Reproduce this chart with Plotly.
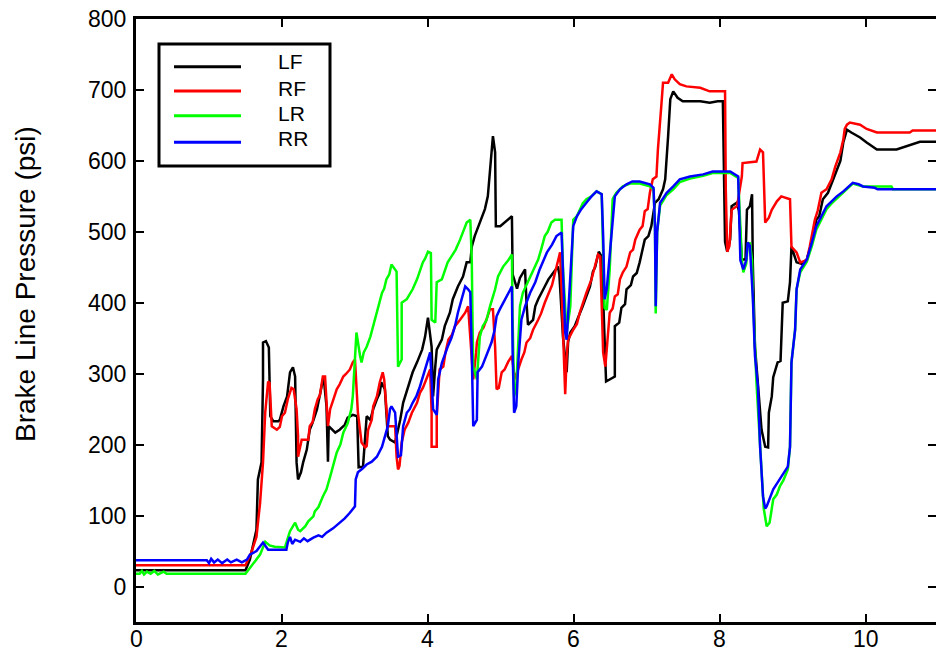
import plotly.graph_objects as go

# ---------------- data (time in s, pressure in psi) ----------------
series_names = ["LF", "RF", "LR", "RR"]
series_colors = ["#000000", "#ff0000", "#00ff00", "#0000ff"]

lf_x = [0, 1.5, 1.56, 1.65, 1.67, 1.72, 1.74, 1.74, 1.78, 1.82, 1.84, 1.88, 1.95, 1.97, 2.02, 2.07, 2.11, 2.15, 2.18, 2.20, 2.22, 2.26, 2.29, 2.34, 2.38, 2.42, 2.48, 2.53, 2.57, 2.61, 2.62, 2.63, 2.64, 2.73, 2.79, 2.86, 2.90, 2.97, 3.03, 3.05, 3.11, 3.14, 3.16, 3.21, 3.25, 3.30, 3.34, 3.36, 3.41, 3.45, 3.48, 3.55, 3.62, 3.66, 3.73, 3.79, 3.85, 3.92, 3.96, 4.0, 4.05, 4.07, 4.10, 4.12, 4.19, 4.23, 4.30, 4.34, 4.41, 4.48, 4.53, 4.58, 4.60, 4.64, 4.71, 4.78, 4.82, 4.85, 4.89, 4.92, 4.93, 4.99, 5.10, 5.15, 5.16, 5.22, 5.26, 5.33, 5.35, 5.37, 5.44, 5.47, 5.51, 5.55, 5.60, 5.65, 5.70, 5.78, 5.80, 5.85, 5.90, 5.92, 5.95, 6.01, 6.06, 6.12, 6.22, 6.26, 6.29, 6.34, 6.38, 6.44, 6.56, 6.56, 6.62, 6.65, 6.70, 6.72, 6.78, 6.81, 6.86, 6.90, 6.97, 7.02, 7.06, 7.11, 7.16, 7.22, 7.25, 7.27, 7.29, 7.32, 7.36, 7.42, 7.49, 7.73, 7.86, 7.97, 8.04, 8.07, 8.10, 8.14, 8.16, 8.23, 8.26, 8.30, 8.35, 8.37, 8.41, 8.44, 8.45, 8.48, 8.52, 8.57, 8.62, 8.66, 8.67, 8.71, 8.73, 8.79, 8.83, 8.86, 8.93, 8.96, 8.98, 9.05, 9.12, 9.19, 9.27, 9.32, 9.36, 9.41, 9.48, 9.53, 9.60, 9.65, 9.69, 9.74, 9.80, 9.92, 10.01, 10.15, 10.42, 10.56, 10.74, 10.96]
lf_y = [23, 23, 38, 80, 151, 175, 292, 344, 346, 337, 240, 233, 233, 235, 254, 268, 302, 309, 296, 175, 151, 161, 175, 193, 221, 231, 250, 273, 296, 254, 226, 176, 226, 217, 221, 228, 238, 242, 240, 168, 169, 207, 240, 235, 250, 264, 273, 288, 278, 212, 207, 203, 235, 259, 282, 302, 316, 334, 352, 379, 338, 268, 310, 334, 348, 367, 386, 405, 423, 437, 457, 457, 479, 494, 513, 532, 550, 588, 635, 612, 508, 508, 517, 522, 440, 420, 435, 447, 400, 369, 376, 395, 405, 414, 423, 433, 440, 451, 440, 352, 302, 345, 358, 367, 380, 395, 423, 444, 450, 472, 465, 289, 296, 367, 372, 393, 398, 419, 425, 437, 442, 457, 489, 494, 508, 541, 546, 560, 574, 602, 635, 687, 698, 689, 684, 684, 682, 684, 684, 486, 472, 489, 536, 541, 530, 461, 461, 531, 536, 553, 457, 338, 288, 221, 197, 196, 245, 268, 295, 316, 318, 400, 402, 429, 479, 457, 455, 461, 489, 517, 522, 546, 555, 569, 588, 600, 626, 644, 640, 633, 626, 616, 616, 621, 627, 627]

rf_x = [0, 1.5, 1.58, 1.65, 1.70, 1.74, 1.77, 1.81, 1.83, 1.86, 1.93, 1.97, 2.00, 2.04, 2.08, 2.13, 2.16, 2.20, 2.22, 2.22, 2.27, 2.36, 2.38, 2.42, 2.45, 2.49, 2.52, 2.56, 2.59, 2.61, 2.63, 2.66, 2.70, 2.75, 2.79, 2.84, 2.88, 2.93, 2.97, 3.0, 3.04, 3.09, 3.14, 3.16, 3.18, 3.23, 3.25, 3.30, 3.34, 3.38, 3.40, 3.43, 3.45, 3.55, 3.57, 3.59, 3.61, 3.64, 3.68, 3.73, 3.78, 3.85, 3.89, 3.93, 3.98, 4.03, 4.05, 4.05, 4.12, 4.12, 4.16, 4.21, 4.24, 4.28, 4.33, 4.37, 4.44, 4.51, 4.55, 4.59, 4.62, 4.66, 4.67, 4.71, 4.76, 4.80, 4.85, 4.89, 4.92, 4.94, 4.97, 5.01, 5.05, 5.10, 5.15, 5.19, 5.23, 5.28, 5.32, 5.35, 5.40, 5.44, 5.51, 5.55, 5.60, 5.65, 5.70, 5.74, 5.78, 5.81, 5.83, 5.85, 5.88, 5.90, 5.92, 5.99, 6.04, 6.08, 6.12, 6.17, 6.24, 6.28, 6.33, 6.36, 6.38, 6.40, 6.43, 6.47, 6.49, 6.53, 6.56, 6.60, 6.63, 6.67, 6.72, 6.77, 6.81, 6.84, 6.90, 6.94, 6.97, 7.01, 7.04, 7.08, 7.13, 7.15, 7.18, 7.20, 7.22, 7.29, 7.34, 7.38, 7.45, 7.54, 7.73, 7.86, 8.07, 8.08, 8.10, 8.13, 8.16, 8.23, 8.25, 8.30, 8.31, 8.50, 8.55, 8.59, 8.62, 8.67, 8.71, 8.78, 8.84, 8.96, 8.98, 9.05, 9.10, 9.19, 9.23, 9.30, 9.34, 9.39, 9.46, 9.53, 9.58, 9.65, 9.69, 9.71, 9.74, 9.78, 9.92, 10.01, 10.15, 10.60, 10.64, 10.96]
rf_y = [30, 30, 48, 70, 118, 175, 245, 289, 287, 226, 221, 225, 240, 245, 264, 280, 278, 250, 212, 183, 207, 207, 226, 232, 250, 264, 270, 296, 296, 268, 226, 250, 264, 278, 285, 296, 300, 306, 316, 320, 245, 203, 196, 198, 221, 235, 254, 268, 288, 302, 292, 250, 226, 226, 183, 165, 170, 203, 221, 231, 245, 259, 273, 280, 292, 306, 245, 197, 197, 240, 306, 310, 330, 348, 355, 367, 376, 386, 395, 330, 292, 330, 344, 358, 365, 376, 391, 391, 338, 278, 280, 302, 306, 317, 325, 292, 306, 320, 330, 344, 350, 362, 376, 385, 400, 414, 425, 442, 457, 471, 419, 348, 271, 325, 348, 362, 370, 386, 400, 414, 433, 450, 468, 465, 395, 330, 310, 367, 386, 392, 409, 412, 433, 443, 451, 471, 475, 489, 503, 508, 529, 532, 555, 574, 578, 616, 649, 682, 710, 710, 722, 715, 708, 705, 703, 698, 698, 560, 472, 480, 531, 536, 546, 578, 597, 599, 616, 612, 513, 520, 531, 543, 550, 546, 479, 471, 457, 460, 479, 517, 530, 555, 560, 574, 592, 612, 630, 645, 651, 654, 651, 645, 640, 640, 643, 643]

lr_x = [0, 0.05, 0.08, 0.11, 0.15, 0.2, 0.25, 0.3, 0.38, 0.42, 1.5, 1.6, 1.70, 1.77, 1.83, 1.90, 2.04, 2.07, 2.11, 2.18, 2.22, 2.25, 2.32, 2.36, 2.43, 2.45, 2.50, 2.56, 2.61, 2.66, 2.70, 2.75, 2.80, 2.84, 2.90, 2.95, 2.97, 3.0, 3.02, 3.07, 3.09, 3.12, 3.16, 3.21, 3.25, 3.28, 3.32, 3.37, 3.40, 3.43, 3.47, 3.50, 3.57, 3.59, 3.64, 3.64, 3.71, 3.75, 3.79, 3.85, 3.89, 3.93, 3.96, 4.0, 4.04, 4.05, 4.10, 4.12, 4.19, 4.23, 4.27, 4.32, 4.38, 4.44, 4.48, 4.53, 4.58, 4.60, 4.61, 4.62, 4.67, 4.71, 4.75, 4.80, 4.85, 4.92, 4.96, 5.03, 5.10, 5.15, 5.16, 5.18, 5.21, 5.23, 5.26, 5.30, 5.37, 5.44, 5.51, 5.55, 5.60, 5.64, 5.69, 5.74, 5.83, 5.85, 5.90, 5.95, 5.97, 5.99, 6.04, 6.08, 6.12, 6.17, 6.24, 6.31, 6.38, 6.40, 6.42, 6.45, 6.49, 6.53, 6.58, 6.67, 6.77, 6.90, 7.04, 7.09, 7.11, 7.12, 7.14, 7.18, 7.22, 7.27, 7.36, 7.45, 7.59, 7.77, 7.90, 8.14, 8.25, 8.30, 8.32, 8.36, 8.38, 8.41, 8.44, 8.45, 8.50, 8.55, 8.60, 8.64, 8.68, 8.73, 8.78, 8.82, 8.87, 8.93, 8.96, 8.98, 9.03, 9.05, 9.10, 9.19, 9.26, 9.32, 9.39, 9.46, 9.53, 9.60, 9.69, 9.74, 9.82, 9.96, 10.12, 10.35, 10.37, 10.96]
lr_y = [18, 18, 22, 17, 21, 18, 22, 17, 21, 18, 18, 31, 45, 63, 58, 56, 55, 65, 78, 90, 80, 78, 85, 92, 99, 106, 112, 127, 137, 155, 169, 189, 200, 217, 230, 250, 268, 316, 358, 325, 316, 330, 338, 352, 367, 380, 395, 414, 420, 433, 440, 454, 444, 310, 320, 400, 405, 412, 419, 433, 445, 457, 462, 472, 470, 376, 372, 429, 433, 445, 457, 465, 475, 489, 500, 513, 517, 461, 376, 310, 292, 352, 367, 375, 395, 419, 437, 451, 460, 468, 376, 268, 282, 330, 395, 414, 430, 447, 461, 475, 494, 500, 513, 517, 517, 447, 358, 395, 471, 517, 522, 532, 540, 546, 550, 557, 553, 471, 393, 390, 447, 546, 555, 564, 568, 568, 564, 560, 508, 385, 500, 537, 543, 552, 560, 570, 575, 579, 583, 583, 576, 461, 443, 455, 479, 485, 460, 414, 288, 193, 110, 85, 90, 123, 130, 141, 150, 165, 197, 316, 362, 419, 443, 458, 480, 503, 518, 532, 540, 547, 555, 560, 568, 564, 564, 564, 560, 560]

rr_x = [0, 0.97, 1.0, 1.03, 1.07, 1.12, 1.18, 1.25, 1.3, 1.38, 1.45, 1.52, 1.56, 1.65, 1.74, 1.81, 2.06, 2.08, 2.11, 2.14, 2.18, 2.25, 2.30, 2.35, 2.43, 2.50, 2.55, 2.61, 2.70, 2.79, 2.86, 2.93, 3.0, 3.01, 3.04, 3.10, 3.16, 3.23, 3.30, 3.37, 3.41, 3.45, 3.48, 3.50, 3.55, 3.57, 3.59, 3.63, 3.66, 3.71, 3.75, 3.79, 3.84, 3.89, 3.93, 3.98, 4.03, 4.05, 4.07, 4.12, 4.14, 4.19, 4.23, 4.27, 4.32, 4.37, 4.41, 4.46, 4.51, 4.55, 4.58, 4.60, 4.62, 4.67, 4.68, 4.74, 4.78, 4.82, 4.87, 4.91, 4.94, 4.98, 5.03, 5.10, 5.15, 5.16, 5.18, 5.21, 5.24, 5.28, 5.33, 5.40, 5.47, 5.53, 5.58, 5.63, 5.70, 5.76, 5.83, 5.85, 5.88, 5.90, 5.95, 5.99, 6.04, 6.10, 6.17, 6.24, 6.31, 6.38, 6.40, 6.42, 6.45, 6.52, 6.56, 6.63, 6.72, 6.80, 6.90, 7.04, 7.09, 7.11, 7.12, 7.14, 7.18, 7.22, 7.27, 7.36, 7.45, 7.59, 7.77, 7.90, 8.14, 8.25, 8.28, 8.32, 8.36, 8.38, 8.41, 8.45, 8.48, 8.52, 8.55, 8.59, 8.62, 8.64, 8.68, 8.73, 8.78, 8.82, 8.88, 8.93, 8.96, 8.98, 9.03, 9.05, 9.10, 9.19, 9.26, 9.32, 9.39, 9.46, 9.53, 9.60, 9.69, 9.74, 9.82, 9.90, 9.96, 10.12, 10.16, 10.96]
rr_y = [37, 37, 33, 39, 34, 38, 33, 38, 34, 38, 34, 38, 45, 50, 62, 52, 52, 62, 70, 60, 66, 63, 68, 64, 69, 72, 70, 76, 82, 90, 96, 104, 113, 151, 161, 166, 172, 176, 183, 197, 212, 226, 250, 254, 245, 207, 183, 185, 226, 245, 250, 259, 268, 282, 296, 316, 330, 292, 250, 242, 292, 315, 328, 338, 350, 367, 386, 405, 423, 419, 415, 330, 226, 235, 302, 310, 320, 330, 344, 360, 381, 390, 400, 414, 423, 330, 245, 254, 320, 376, 395, 414, 429, 447, 458, 471, 482, 494, 499, 447, 358, 348, 437, 508, 522, 532, 541, 550, 557, 553, 494, 405, 420, 503, 550, 560, 567, 571, 571, 567, 562, 508, 395, 500, 541, 547, 555, 564, 574, 578, 581, 585, 585, 578, 460, 447, 460, 485, 480, 409, 325, 282, 197, 127, 110, 113, 125, 137, 145, 151, 160, 169, 197, 316, 362, 419, 447, 461, 485, 508, 522, 536, 543, 550, 557, 562, 569, 567, 564, 562, 560, 560]

series_x = [lf_x, rf_x, lr_x, rr_x]
series_y = [lf_y, rf_y, lr_y, rr_y]

x_ticks = [0, 2, 4, 6, 8, 10]
y_ticks = [0, 100, 200, 300, 400, 500, 600, 700, 800]
y_title = "Brake Line Pressure (psi)"

# ---------------- layout geometry ----------------
W, H = 936, 654
ML, MR, MT, MB = 136, 0, 19, 32
PW, PH = W - ML - MR, H - MT - MB
FONT = "Liberation Sans, Arial, Helvetica, sans-serif"


def px(xp):
    return (xp - ML) / PW


def py(yp):
    return (H - MB - yp) / PH


fig = go.Figure()
for name, color, xs, ys in zip(series_names, series_colors, series_x, series_y):
    fig.add_trace(go.Scatter(x=xs, y=ys, mode="lines", name=name,
                             line=dict(color=color, width=2.5),
                             showlegend=False, hoverinfo="skip"))
# empty trace so the right-hand tick axis is drawn
fig.add_trace(go.Scatter(x=[], y=[], yaxis="y2", showlegend=False))

axis_common = dict(ticks="inside", ticklen=8, tickwidth=2, tickcolor="black",
                   showgrid=False, zeroline=False, automargin=False,
                   tickfont=dict(family=FONT, size=23, color="black"))

fig.update_layout(
    width=W, height=H,
    margin=dict(l=ML, r=MR, t=MT, b=MB, pad=0, autoexpand=False),
    paper_bgcolor="white", plot_bgcolor="white",
    font=dict(family=FONT, color="black"),
    xaxis=dict(range=[0, 10.96], tickvals=x_ticks, showticklabels=False,
               showline=True, linewidth=3, linecolor="black", mirror="ticks",
               **axis_common),
    yaxis=dict(range=[-50, 800], tickvals=y_ticks, ticktext=[str(v) for v in y_ticks],
               showline=True, linewidth=3, linecolor="black", mirror=False,
               ticklabelstandoff=2, **axis_common),
    yaxis2=dict(range=[-50, 800], tickvals=y_ticks, overlaying="y", side="right",
                anchor="x", showline=False, showticklabels=False, automargin=False,
                ticks="inside", ticklen=8, tickwidth=2, tickcolor="black",
                showgrid=False, zeroline=False),
    showlegend=False,
)

# x tick labels (placed just under the axis line)
for v in x_ticks:
    fig.add_annotation(text=str(v), xref="x", yref="paper", x=v, y=py(638.5),
                       xanchor="center", yanchor="middle", showarrow=False,
                       font=dict(family=FONT, size=23, color="black"))

# y-axis title
fig.add_annotation(text=y_title, xref="paper", yref="paper", x=px(25), y=py(284),
                   xanchor="center", yanchor="middle", textangle=-90, showarrow=False,
                   font=dict(family=FONT, size=28, color="black"))

# custom legend box
fig.add_shape(type="rect", xref="paper", yref="paper",
              x0=px(159), x1=px(330), y0=py(166), y1=py(44),
              line=dict(color="black", width=3), fillcolor="white", layer="above")
line_y = [66.7, 91, 115.7, 142.3]
text_y = [61.5, 88, 113.5, 138.5]
for name, color, ly, ty in zip(series_names, series_colors, line_y, text_y):
    fig.add_shape(type="line", xref="paper", yref="paper",
                  x0=px(174), x1=px(241), y0=py(ly), y1=py(ly),
                  line=dict(color=color, width=3), layer="above")
    fig.add_annotation(text=name, xref="paper", yref="paper", x=px(276), y=py(ty),
                       xanchor="left", yanchor="middle", showarrow=False,
                       font=dict(family=FONT, size=21, color="black"))

fig.write_html("out.html")
